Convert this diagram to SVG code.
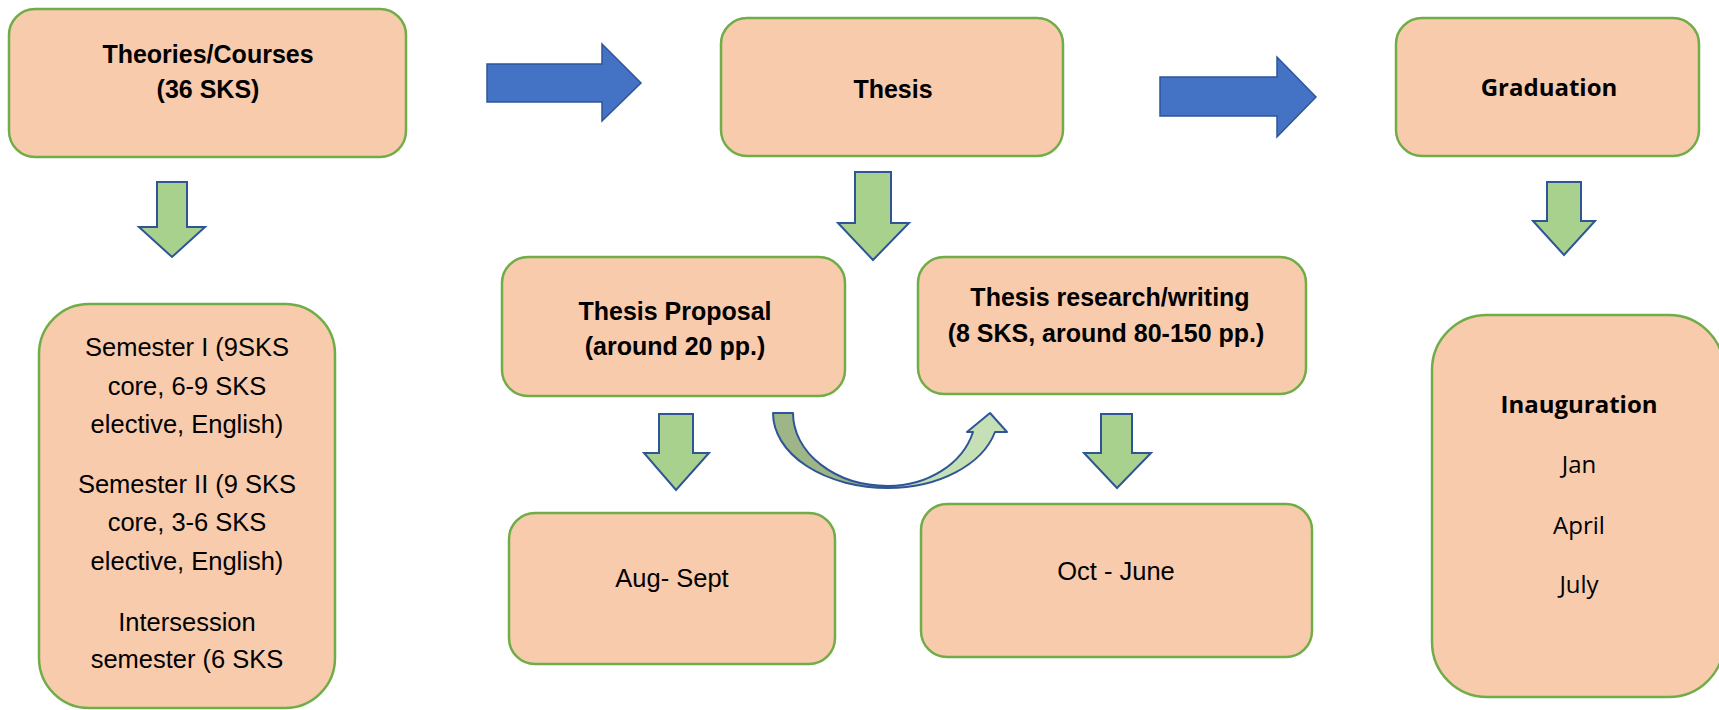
<svg xmlns="http://www.w3.org/2000/svg" width="1719" height="710" viewBox="0 0 1719 710">
<style>
.box{fill:#f8cbad;stroke:#70ad47;stroke-width:2.5}
.blue{fill:#4472c4;stroke:#2f5597;stroke-width:1.5}
.green{fill:#a9d18e;stroke:#2f5597;stroke-width:2}
.t{font-family:"Liberation Sans",Arial,sans-serif;fill:#000;text-anchor:middle}
.b{font-weight:bold;font-size:25px}
.r{font-size:25.5px}
.s{font-family:"Open Sans","Noto Sans",sans-serif;fill:#000;text-anchor:middle;font-size:24px}
</style>
<rect width="1719" height="710" fill="#fff"/>
<g id="connectors">
<path class="blue" d="M487,64 L602,64 L602,44 L641,83 L602,121 L602,102 L487,102 Z"/>
<path class="blue" d="M1160,77 L1277,77 L1277,57 L1316,97 L1277,137 L1277,116 L1160,116 Z"/>
<path class="green" d="M157,182 L187,182 L187,227 L205,227 L172,257 L139,227 L157,227 Z"/>
<path class="green" d="M855,172 L891,172 L891,223 L909,223 L873,260 L838,223 L855,223 Z"/>
<path class="green" d="M1547,182 L1581,182 L1581,221 L1595,221 L1564,255 L1533,221 L1547,221 Z"/>
<path class="green" d="M659,414 L693,414 L693,453 L709,453 L676,490 L644,453 L659,453 Z"/>
<path class="green" d="M1101,414 L1132,414 L1132,453 L1151,453 L1117,488 L1084,453 L1101,453 Z"/>
<path d="M773,413 L793,413 A95,73 0 0 0 888,486 L888,488 A115,75 0 0 1 773,413 Z" fill="#9db587" stroke="#2f5597" stroke-width="2" stroke-linejoin="round"/>
<path d="M888,486 A88,73 0 0 0 973,432 L967,432 L990,413 L1007,432 L995,432 A110.6,75 0 0 1 888,488 Z" fill="#c5e0b4" stroke="#2f5597" stroke-width="2" stroke-linejoin="round"/>
</g>
<g id="theories">
<rect class="box" x="9" y="9" width="397" height="148" rx="26"/>
<text class="t b" x="208" y="63">Theories/Courses</text>
<text class="t b" x="208" y="98">(36 SKS)</text>
</g>
<g id="thesis">
<rect class="box" x="721" y="18" width="342" height="138" rx="26"/>
<text class="t b" x="893" y="98">Thesis</text>
</g>
<g id="graduation">
<rect class="box" x="1396" y="18" width="303" height="138" rx="26"/>
<text class="s" x="1549" y="96" font-weight="bold">Graduation</text>
</g>
<g id="semesters">
<rect class="box" x="39" y="304" width="296" height="404" rx="50"/>
<text class="t r" x="187" y="356">Semester I (9SKS</text>
<text class="t r" x="187" y="395">core, 6-9 SKS</text>
<text class="t r" x="187" y="433">elective, English)</text>
<text class="t r" x="187" y="493">Semester II (9 SKS</text>
<text class="t r" x="187" y="531">core, 3-6 SKS</text>
<text class="t r" x="187" y="570">elective, English)</text>
<text class="t r" x="187" y="631">Intersession</text>
<text class="t r" x="187" y="668">semester (6 SKS</text>
</g>
<g id="proposal">
<rect class="box" x="502" y="257" width="343" height="139" rx="26"/>
<text class="t b" x="675" y="320">Thesis Proposal</text>
<text class="t b" x="675" y="355">(around 20 pp.)</text>
</g>
<g id="research">
<rect class="box" x="918" y="257" width="388" height="137" rx="26"/>
<text class="t b" x="1110" y="306">Thesis research/writing</text>
<text class="t b" x="1106" y="342">(8 SKS, around 80-150 pp.)</text>
</g>
<g id="augsept">
<rect class="box" x="509" y="513" width="326" height="151" rx="26"/>
<text class="t r" x="672" y="587">Aug- Sept</text>
</g>
<g id="octjune">
<rect class="box" x="921" y="504" width="391" height="153" rx="26"/>
<text class="t r" x="1116" y="580">Oct - June</text>
</g>
<g id="inauguration">
<rect class="box" x="1432" y="315" width="292" height="382" rx="55"/>
<text class="s" x="1579" y="413" font-weight="bold">Inauguration</text>
<text class="s" x="1579" y="473">Jan</text>
<text class="s" x="1579" y="534">April</text>
<text class="s" x="1579" y="593">July</text>
</g>
</svg>
